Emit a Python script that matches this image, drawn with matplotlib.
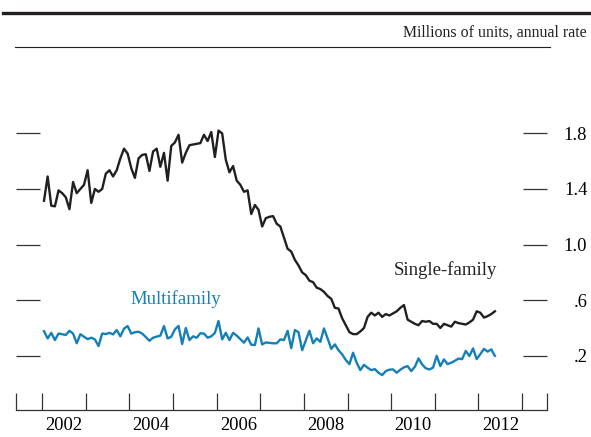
import numpy as np
import matplotlib
matplotlib.use("Agg")
import matplotlib.pyplot as plt
from matplotlib.lines import Line2D

# monthly, Jan 2002 .. May 2012, millions of units (annual rate)
single_family = [
    1.315, 1.49, 1.28, 1.275, 1.39, 1.37, 1.34, 1.255, 1.45, 1.37, 1.40, 1.43,
    1.535, 1.30, 1.40, 1.38, 1.40, 1.51, 1.535, 1.49, 1.535, 1.62, 1.69, 1.655,
    1.55, 1.48, 1.62, 1.645, 1.65, 1.53, 1.67, 1.69, 1.56, 1.66, 1.46, 1.71,
    1.735, 1.79, 1.59, 1.66, 1.715, 1.72, 1.725, 1.73, 1.79, 1.745, 1.81, 1.63,
    1.82, 1.80, 1.61, 1.52, 1.565, 1.46, 1.43, 1.38, 1.39, 1.22, 1.285, 1.25,
    1.13, 1.19, 1.20, 1.205, 1.15, 1.13, 1.05, 0.97, 0.95, 0.89, 0.85, 0.80,
    0.78, 0.74, 0.73, 0.69, 0.68, 0.66, 0.63, 0.61, 0.545, 0.54, 0.47, 0.42,
    0.37, 0.356, 0.356, 0.375, 0.40, 0.48, 0.51, 0.49, 0.51, 0.48, 0.50, 0.49,
    0.505, 0.52, 0.545, 0.565, 0.46, 0.445, 0.43, 0.42, 0.45, 0.445, 0.45, 0.43,
    0.43, 0.40, 0.43, 0.42, 0.41, 0.445, 0.435, 0.43, 0.425, 0.44, 0.46, 0.52,
    0.51, 0.475, 0.485, 0.50, 0.52,
]
multifamily = [
    0.377, 0.325, 0.365, 0.313, 0.36, 0.355, 0.35, 0.38, 0.36, 0.29, 0.355, 0.337,
    0.32, 0.33, 0.318, 0.27, 0.36, 0.356, 0.365, 0.354, 0.385, 0.34, 0.395, 0.414,
    0.36, 0.37, 0.373, 0.36, 0.335, 0.308, 0.33, 0.338, 0.345, 0.414, 0.325, 0.337,
    0.39, 0.415, 0.285, 0.40, 0.313, 0.34, 0.33, 0.362, 0.36, 0.33, 0.34, 0.365,
    0.45, 0.318, 0.365, 0.313, 0.365, 0.345, 0.32, 0.294, 0.332, 0.28, 0.277, 0.397,
    0.282, 0.296, 0.293, 0.29, 0.29, 0.318, 0.313, 0.38, 0.255, 0.385, 0.37, 0.24,
    0.31, 0.38, 0.29, 0.325, 0.30, 0.397, 0.325, 0.25, 0.282, 0.24, 0.21, 0.17,
    0.14, 0.222, 0.15, 0.097, 0.135, 0.114, 0.097, 0.104, 0.078, 0.061, 0.09, 0.10,
    0.102, 0.078, 0.10, 0.117, 0.126, 0.09, 0.121, 0.181, 0.138, 0.11, 0.102, 0.115,
    0.20, 0.126, 0.174, 0.14, 0.15, 0.164, 0.18, 0.176, 0.235, 0.198, 0.253, 0.176,
    0.212, 0.25, 0.23, 0.246, 0.20,
]
start_year = 2002
year_labels = ["2002", "2004", "2006", "2008", "2010", "2012"]
y_ticks = [0.2, 0.6, 1.0, 1.4, 1.8]
y_tick_labels = [".2", ".6", "1.0", "1.4", "1.8"]

dates = start_year + (np.arange(len(single_family)) + 0.5) / 12

plt.rcParams["font.family"] = ["Liberation Serif", "DejaVu Serif"]
W, H = 591, 437
fig = plt.figure(figsize=(W / 100, H / 100), dpi=100)
ax = fig.add_axes([16 / W, 1 - 410 / H, 531 / W, 350 / H])

blue = "#1480b6"
ax.plot(dates, single_family, color="#231f20", lw=1.7, solid_joinstyle="round")
ax.plot(dates, multifamily, color=blue, lw=1.7, solid_joinstyle="round")

ax.set_xlim(2001.40, 2013.57)
ax.set_ylim(-0.19, 2.328)

for s in ["top", "left", "right"]:
    ax.spines[s].set_visible(False)
ax.spines["bottom"].set_linewidth(0.9)
ax.spines["bottom"].set_color("#333333")

# x axis: boundary ticks at each year, labels at mid-year
major = [2001.40] + list(range(2002, 2014)) + [2013.57]
ax.set_xticks(major)
ax.set_xticklabels([])
ax.set_xticks([int(y) + 0.5 for y in year_labels], minor=True)
ax.set_xticklabels(year_labels, minor=True)
ax.tick_params(axis="x", which="major", direction="in", length=12, width=0.9,
               color="#333333")
ax.tick_params(axis="x", which="minor", length=0, pad=5, labelsize=13.3)

# y axis: ticks inside on both sides, labels on right
ax.set_yticks(y_ticks)
ax.set_yticklabels(y_tick_labels)
ax.tick_params(axis="y", direction="in", length=17.5, width=0.9, color="#333333",
               left=True, right=True, labelleft=False, labelright=True,
               labelsize=13.3, pad=29)
for lab in ax.get_yticklabels():
    lab.set_horizontalalignment("right")

ax.text(2005.07, 0.608, "Multifamily", color=blue, fontsize=13.5,
        ha="center", va="center")
ax.text(2011.24, 0.817, "Single-family", color="#231f20", fontsize=13.5,
        ha="center", va="center")

# header rules and unit note
fig.add_artist(Line2D([3 / W, 1], [1 - 13 / H] * 2, color="#231f20", lw=2.4))
fig.add_artist(Line2D([15 / W, 550 / W], [1 - 47 / H] * 2, color="#231f20", lw=0.8))
fig.text(587 / W, 1 - 33 / H, "Millions of units, annual rate", fontsize=11.4,
         ha="right", va="center", color="#231f20")

fig.savefig("out.png", dpi=100)
